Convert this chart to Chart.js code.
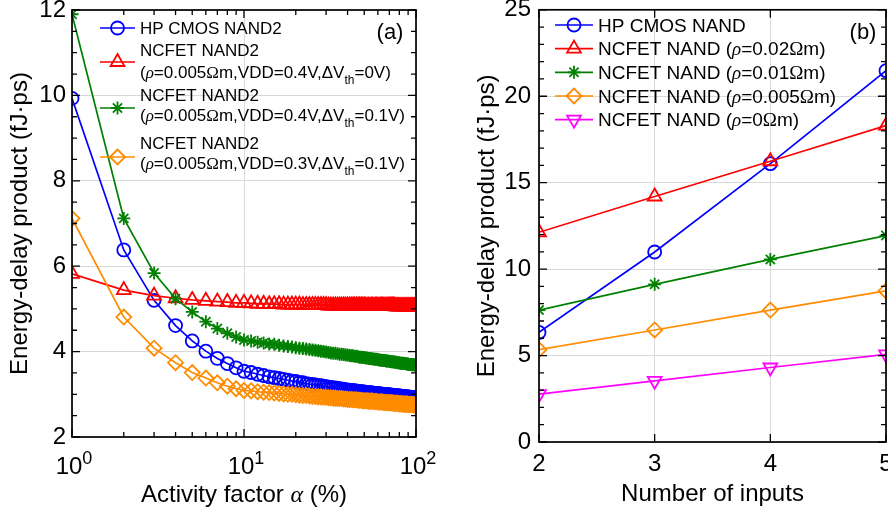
<!DOCTYPE html>
<html>
<head>
<meta charset="UTF-8">
<title>NAND energy-delay product</title>
<script src="https://cdn.jsdelivr.net/npm/chart.js"></script>
<style>
  html, body { margin: 0; padding: 0; background: #fff; overflow: hidden; width: 888px; height: 519px; }
  canvas { position: absolute; top: 0; }
  #chartA { left: 0; }
  #chartB { left: 440px; }
</style>
</head>
<body>
<canvas id="chartA" width="440" height="519"></canvas>
<canvas id="chartB" width="470" height="519"></canvas>
<script>
// ---- panel (a): EDP vs activity factor ----
const alphaPct = [
  1, 2, 3, 4, 5, 6, 7, 8, 9, 10, 11, 12, 13, 14, 15, 16, 17, 18, 19, 20,
  21, 22, 23, 24, 25, 26, 27, 28, 29, 30, 31, 32, 33, 34, 35, 36, 37, 38, 39, 40,
  41, 42, 43, 44, 45, 46, 47, 48, 49, 50, 51, 52, 53, 54, 55, 56, 57, 58, 59, 60,
  61, 62, 63, 64, 65, 66, 67, 68, 69, 70, 71, 72, 73, 74, 75, 76, 77, 78, 79, 80,
  81, 82, 83, 84, 85, 86, 87, 88, 89, 90, 91, 92, 93, 94, 95, 96, 97, 98, 99, 100
];
const hpCmosNand2 = [
  9.93, 6.38, 5.20, 4.61, 4.25, 4.01, 3.84, 3.72, 3.62, 3.54,
  3.51, 3.47, 3.44, 3.41, 3.39, 3.37, 3.35, 3.33, 3.31, 3.30,
  3.28, 3.27, 3.25, 3.24, 3.23, 3.22, 3.21, 3.20, 3.19, 3.18,
  3.17, 3.16, 3.15, 3.15, 3.14, 3.13, 3.12, 3.12, 3.11, 3.10,
  3.10, 3.09, 3.09, 3.08, 3.08, 3.07, 3.07, 3.06, 3.06, 3.05,
  3.05, 3.04, 3.04, 3.04, 3.03, 3.03, 3.02, 3.02, 3.02, 3.02,
  3.01, 3.01, 3.01, 3.00, 3.00, 3.00, 2.99, 2.99, 2.99, 2.99,
  2.98, 2.98, 2.98, 2.97, 2.97, 2.97, 2.97, 2.96, 2.96, 2.96,
  2.96, 2.95, 2.95, 2.95, 2.95, 2.95, 2.94, 2.94, 2.94, 2.94,
  2.94, 2.93, 2.93, 2.93, 2.93, 2.93, 2.92, 2.92, 2.92, 2.92
];
const ncfetV04Dvth0 = [
  5.82, 5.44, 5.31, 5.25, 5.21, 5.19, 5.17, 5.16, 5.14, 5.14,
  5.13, 5.12, 5.12, 5.11, 5.11, 5.11, 5.10, 5.10, 5.10, 5.10,
  5.10, 5.09, 5.09, 5.09, 5.09, 5.09, 5.09, 5.09, 5.09, 5.09,
  5.08, 5.08, 5.08, 5.08, 5.08, 5.08, 5.08, 5.08, 5.08, 5.08,
  5.08, 5.08, 5.08, 5.08, 5.08, 5.08, 5.08, 5.08, 5.08, 5.08,
  5.07, 5.07, 5.07, 5.07, 5.07, 5.07, 5.07, 5.07, 5.07, 5.07,
  5.07, 5.07, 5.07, 5.07, 5.07, 5.07, 5.07, 5.07, 5.07, 5.07,
  5.07, 5.07, 5.07, 5.07, 5.07, 5.06, 5.06, 5.06, 5.06, 5.06,
  5.06, 5.06, 5.06, 5.06, 5.06, 5.06, 5.06, 5.06, 5.06, 5.06,
  5.06, 5.06, 5.06, 5.06, 5.06, 5.06, 5.06, 5.06, 5.06, 5.06
];
const ncfetV04Dvth01 = [
  11.90, 7.12, 5.84, 5.24, 4.93, 4.70, 4.54, 4.43, 4.34, 4.27,
  4.25, 4.22, 4.20, 4.18, 4.17, 4.15, 4.13, 4.12, 4.11, 4.09,
  4.08, 4.07, 4.06, 4.05, 4.04, 4.03, 4.02, 4.01, 4.00, 3.99,
  3.98, 3.97, 3.96, 3.96, 3.95, 3.94, 3.94, 3.93, 3.92, 3.92,
  3.91, 3.90, 3.90, 3.89, 3.89, 3.88, 3.87, 3.87, 3.86, 3.86,
  3.85, 3.85, 3.84, 3.84, 3.83, 3.83, 3.82, 3.82, 3.82, 3.81,
  3.81, 3.80, 3.80, 3.79, 3.79, 3.79, 3.78, 3.78, 3.78, 3.77,
  3.77, 3.76, 3.76, 3.76, 3.75, 3.75, 3.75, 3.74, 3.74, 3.74,
  3.73, 3.73, 3.73, 3.73, 3.72, 3.72, 3.72, 3.71, 3.71, 3.71,
  3.70, 3.70, 3.70, 3.70, 3.69, 3.69, 3.69, 3.69, 3.68, 3.68
];
const ncfetV03Dvth01 = [
  7.12, 4.81, 4.08, 3.74, 3.51, 3.38, 3.27, 3.19, 3.13, 3.09,
  3.08, 3.06, 3.05, 3.04, 3.03, 3.02, 3.01, 3.00, 3.00, 2.99,
  2.98, 2.97, 2.97, 2.96, 2.95, 2.95, 2.94, 2.94, 2.93, 2.93,
  2.92, 2.92, 2.91, 2.91, 2.90, 2.90, 2.90, 2.89, 2.89, 2.88,
  2.88, 2.88, 2.87, 2.87, 2.87, 2.86, 2.86, 2.86, 2.85, 2.85,
  2.85, 2.85, 2.84, 2.84, 2.84, 2.84, 2.83, 2.83, 2.83, 2.82,
  2.82, 2.82, 2.82, 2.82, 2.81, 2.81, 2.81, 2.81, 2.80, 2.80,
  2.80, 2.80, 2.80, 2.79, 2.79, 2.79, 2.79, 2.79, 2.78, 2.78,
  2.78, 2.78, 2.78, 2.77, 2.77, 2.77, 2.77, 2.77, 2.77, 2.76,
  2.76, 2.76, 2.76, 2.76, 2.76, 2.76, 2.75, 2.75, 2.75, 2.75
];
const alphaDecades = [1, 10, 100];
const edpTicksA = [2, 4, 6, 8, 10, 12];

// ---- panel (b): EDP vs fan-in ----
const numInputs = [2, 3, 4, 5];
const hpCmosNand = [6.34, 10.99, 16.10, 21.48];
const ncfetRho002 = [12.13, 14.20, 16.24, 18.30];
const ncfetRho001 = [7.63, 9.12, 10.56, 11.94];
const ncfetRho0005 = [5.34, 6.48, 7.63, 8.74];
const ncfetRho0 = [2.77, 3.54, 4.31, 5.07];
const edpTicksB = [0, 5, 10, 15, 20, 25];

const BLUE = '#0000ff', RED = '#ff0000', GREEN = '#008000', ORANGE = '#ff8c00', MAGENTA = '#ff00ff';
const SANS = '"Liberation Sans", Arial, Helvetica, sans-serif';
const SERIF = '"Liberation Serif", "Times New Roman", serif';

Chart.defaults.font.family = SANS;
Chart.defaults.color = '#000';

const markers = {
  circle:   { pointStyle: 'circle',   radius: 6.5, rotation: 0 },
  triUp:    { pointStyle: 'triangle', radius: 8,   rotation: 0 },
  triDown:  { pointStyle: 'triangle', radius: 8,   rotation: 180 },
  star:     { pointStyle: 'star',     radius: 6.5, rotation: 0 },
  diamond:  { pointStyle: 'rectRot',  radius: 7.5, rotation: 0 }
};
const LINE_W = 1.7, MARK_W = 1.8;

function series(xs, ys, color, mk, order) {
  const m = markers[mk];
  return {
    data: xs.map((x, i) => ({ x: x, y: ys[i] })),
    borderColor: color,
    borderWidth: LINE_W,
    backgroundColor: 'rgba(0,0,0,0)',
    pointBackgroundColor: 'rgba(0,0,0,0)',
    pointBorderColor: color,
    pointBorderWidth: MARK_W,
    pointStyle: m.pointStyle,
    pointRadius: m.radius,
    pointRotation: m.rotation,
    tension: 0,
    order: order
  };
}

// pin the axis boxes so the plot area lands where we want it
function pinWidth(w) {
  return s => { s.width = w; s.paddingLeft = s.paddingRight = s.paddingTop = s.paddingBottom = 0; };
}
function pinHeight(h) {
  return s => { s.height = h; s.paddingLeft = s.paddingRight = s.paddingTop = s.paddingBottom = 0; };
}

// text with italic / subscript / superscript runs; parts = [[text, style], ...]
function fontFor(style, size) {
  if (style === 'm') return 'italic ' + size + 'px ' + SERIF;
  if (style === 'g') return size + 'px ' + SERIF;
  if (style === 'sub') return Math.round(size * 0.72) + 'px ' + SANS;
  if (style === 'sup') return Math.round(size * 0.75) + 'px ' + SANS;
  return size + 'px ' + SANS;
}
function richText(ctx, parts, x, y, size, align) {
  let w = 0;
  parts.forEach(([t, s]) => { ctx.font = fontFor(s, size); w += ctx.measureText(t).width; });
  let cx = align === 'center' ? x - w / 2 : x;
  ctx.textAlign = 'left';
  ctx.textBaseline = 'alphabetic';
  parts.forEach(([t, s]) => {
    ctx.font = fontFor(s, size);
    const dy = s === 'sub' ? size * 0.36 : s === 'sup' ? -size * 0.42 : 0;
    ctx.fillText(t, cx, y + dy);
    cx += ctx.measureText(t).width;
  });
}

function drawMarker(ctx, mk, color, x, y) {
  const m = markers[mk];
  ctx.save();
  ctx.strokeStyle = color;
  ctx.fillStyle = 'rgba(0,0,0,0)';
  ctx.lineWidth = MARK_W;
  Chart.helpers.drawPoint(ctx, { pointStyle: m.pointStyle, radius: m.radius, rotation: m.rotation, borderWidth: MARK_W }, x, y);
  ctx.restore();
}

function drawLegend(ctx, entries, x0, x1, size) {
  entries.forEach(e => {
    ctx.save();
    ctx.strokeStyle = e.color;
    ctx.lineWidth = LINE_W;
    ctx.beginPath();
    ctx.moveTo(x0, e.y);
    ctx.lineTo(x1, e.y);
    ctx.stroke();
    ctx.restore();
    drawMarker(ctx, e.marker, e.color, (x0 + x1) / 2, e.y);
    ctx.fillStyle = '#000';
    e.lines.forEach((parts, i) => richText(ctx, parts, x1 + 5, e.textY[i] + size * 0.36, size, 'left'));
  });
}

// box with inward ticks on all four sides
function drawFrame(chart, xMajor, xMinor, yMajor, yMinor) {
  const { ctx, chartArea: a, scales: { x, y } } = chart;
  ctx.save();
  ctx.strokeStyle = '#000';
  ctx.lineWidth = 1.3;
  ctx.beginPath();
  const xt = (vals, len) => vals.forEach(v => {
    const p = x.getPixelForValue(v);
    ctx.moveTo(p, a.bottom); ctx.lineTo(p, a.bottom - len);
    ctx.moveTo(p, a.top); ctx.lineTo(p, a.top + len);
  });
  const yt = (vals, len) => vals.forEach(v => {
    const p = y.getPixelForValue(v);
    ctx.moveTo(a.left, p); ctx.lineTo(a.left + len, p);
    ctx.moveTo(a.right, p); ctx.lineTo(a.right - len, p);
  });
  xt(xMajor, 8); xt(xMinor, 5);
  yt(yMajor, 8); yt(yMinor, 5);
  ctx.stroke();
  ctx.lineWidth = 1.7;
  ctx.strokeRect(a.left, a.top, a.right - a.left, a.bottom - a.top);
  ctx.restore();
}

const legendA = [
  { color: BLUE, marker: 'circle', y: 28, textY: [28],
    lines: [[['HP CMOS NAND2', '']]] },
  { color: RED, marker: 'triUp', y: 62, textY: [50, 71.5],
    lines: [[['NCFET NAND2', '']],
            [['(', ''], ['ρ', 'm'], ['=0.005', ''], ['Ω', 'g'], ['m,VDD=0.4V,ΔV', ''], ['th', 'sub'], ['=0V)', '']]] },
  { color: GREEN, marker: 'star', y: 108, textY: [95, 115],
    lines: [[['NCFET NAND2', '']],
            [['(', ''], ['ρ', 'm'], ['=0.005', ''], ['Ω', 'g'], ['m,VDD=0.4V,ΔV', ''], ['th', 'sub'], ['=0.1V)', '']]] },
  { color: ORANGE, marker: 'diamond', y: 157, textY: [143, 163],
    lines: [[['NCFET NAND2', '']],
            [['(', ''], ['ρ', 'm'], ['=0.005', ''], ['Ω', 'g'], ['m,VDD=0.3V,ΔV', ''], ['th', 'sub'], ['=0.1V)', '']]] }
];

const legendB = [
  { color: BLUE, marker: 'circle', y: 25, textY: [25],
    lines: [[['HP CMOS NAND', '']]] },
  { color: RED, marker: 'triUp', y: 48.6, textY: [48.6],
    lines: [[['NCFET NAND (', ''], ['ρ', 'm'], ['=0.02', ''], ['Ω', 'g'], ['m)', '']]] },
  { color: GREEN, marker: 'star', y: 72.3, textY: [72.3],
    lines: [[['NCFET NAND (', ''], ['ρ', 'm'], ['=0.01', ''], ['Ω', 'g'], ['m)', '']]] },
  { color: ORANGE, marker: 'diamond', y: 96, textY: [96],
    lines: [[['NCFET NAND (', ''], ['ρ', 'm'], ['=0.005', ''], ['Ω', 'g'], ['m)', '']]] },
  { color: MAGENTA, marker: 'triDown', y: 119.6, textY: [119.6],
    lines: [[['NCFET NAND (', ''], ['ρ', 'm'], ['=0', ''], ['Ω', 'g'], ['m)', '']]] }
];

const gridColor = '#d9d9d9';
const TICK_PX = 24, TITLE_PX = 24;

// ---- chart (a) ----
const decorA = {
  id: 'decorA',
  afterDatasetsDraw(chart) {
    const { ctx, chartArea: a, scales: { x } } = chart;
    const minor = [];
    [1, 10].forEach(d => { for (const k of [2, 3, 4, 5, 6, 7, 8, 9]) minor.push(k * d); });
    const yMinor = [];
    edpTicksA.slice(0, -1).forEach(v => { yMinor.push(v + 0.5, v + 1, v + 1.5); });
    drawFrame(chart, alphaDecades, minor, edpTicksA, yMinor);

    ctx.save();
    ctx.fillStyle = '#000';
    // 10^n tick labels
    alphaDecades.forEach(v => {
      const p = x.getPixelForValue(v);
      richText(ctx, [['10', ''], [String(Math.round(Math.log10(v))), 'sup']], p + 2, a.bottom + 37, TICK_PX, 'center');
    });
    richText(ctx, [['Activity factor ', ''], ['α', 'm'], [' (%)', '']], (a.left + a.right) / 2, 502, TITLE_PX, 'center');
    ctx.font = '22px ' + SANS;
    ctx.textAlign = 'center';
    ctx.textBaseline = 'middle';
    ctx.fillText('(a)', 390, 33);
    drawLegend(ctx, legendA, 100, 135, 17);
    ctx.restore();
  }
};

new Chart(document.getElementById('chartA'), {
  type: 'line',
  data: {
    datasets: [
      series(alphaPct, hpCmosNand2, BLUE, 'circle', 3),
      series(alphaPct, ncfetV04Dvth0, RED, 'triUp', 2),
      series(alphaPct, ncfetV04Dvth01, GREEN, 'star', 1),
      series(alphaPct, ncfetV03Dvth01, ORANGE, 'diamond', 0)
    ]
  },
  options: {
    responsive: false,
    animation: false,
    devicePixelRatio: 1,
    layout: { padding: { left: 0, top: 10, right: 24, bottom: 0 } },
    plugins: { legend: { display: false }, tooltip: { enabled: false } },
    scales: {
      x: {
        type: 'logarithmic',
        min: 1, max: 100,
        afterBuildTicks: s => { s.ticks = alphaDecades.map(v => ({ value: v })); },
        afterFit: pinHeight(82),
        grid: { color: gridColor, drawTicks: false },
        border: { display: false },
        ticks: { display: false }
      },
      y: {
        min: 2, max: 12,
        afterBuildTicks: s => { s.ticks = edpTicksA.map(v => ({ value: v })); },
        afterFit: pinWidth(72),
        grid: { color: gridColor, drawTicks: false },
        border: { display: false },
        ticks: { padding: 6, font: { size: TICK_PX } },
        title: { display: true, text: 'Energy-delay product (fJ·ps)', font: { size: TITLE_PX }, padding: { top: 6, bottom: 0 } }
      }
    }
  },
  plugins: [decorA]
});

// ---- chart (b) ----
const decorB = {
  id: 'decorB',
  afterDatasetsDraw(chart) {
    const { ctx } = chart;
    const yMinor = [];
    edpTicksB.slice(0, -1).forEach(v => { yMinor.push(v + 1, v + 2, v + 3, v + 4); });
    drawFrame(chart, numInputs, [], edpTicksB, yMinor);
    ctx.save();
    ctx.fillStyle = '#000';
    ctx.font = '22px ' + SANS;
    ctx.textAlign = 'center';
    ctx.textBaseline = 'middle';
    ctx.fillText('(b)', 423, 33);
    drawLegend(ctx, legendB, 115, 153, 19);
    ctx.restore();
  }
};

new Chart(document.getElementById('chartB'), {
  type: 'line',
  data: {
    datasets: [
      series(numInputs, hpCmosNand, BLUE, 'circle', 4),
      series(numInputs, ncfetRho002, RED, 'triUp', 3),
      series(numInputs, ncfetRho001, GREEN, 'star', 2),
      series(numInputs, ncfetRho0005, ORANGE, 'diamond', 1),
      series(numInputs, ncfetRho0, MAGENTA, 'triDown', 0)
    ]
  },
  options: {
    responsive: false,
    animation: false,
    devicePixelRatio: 1,
    layout: { padding: { left: 0, top: 7, right: 24, bottom: 0 } },
    plugins: { legend: { display: false }, tooltip: { enabled: false } },
    scales: {
      x: {
        type: 'linear',
        min: 2, max: 5,
        afterBuildTicks: s => { s.ticks = numInputs.map(v => ({ value: v })); },
        afterFit: pinHeight(77),
        grid: { color: gridColor, drawTicks: false },
        border: { display: false },
        ticks: { padding: 8, font: { size: TICK_PX } },
        title: { display: true, text: 'Number of inputs', font: { size: TITLE_PX }, padding: { top: 0, bottom: 10 } }
      },
      y: {
        min: 0, max: 25,
        afterBuildTicks: s => { s.ticks = edpTicksB.map(v => ({ value: v })); },
        afterFit: pinWidth(99),
        grid: { color: gridColor, drawTicks: false },
        border: { display: false },
        ticks: { padding: 8, font: { size: TICK_PX } },
        title: { display: true, text: 'Energy-delay product (fJ·ps)', font: { size: TITLE_PX }, padding: { top: 33, bottom: 0 } }
      }
    }
  },
  plugins: [decorB]
});
</script>
</body>
</html>
